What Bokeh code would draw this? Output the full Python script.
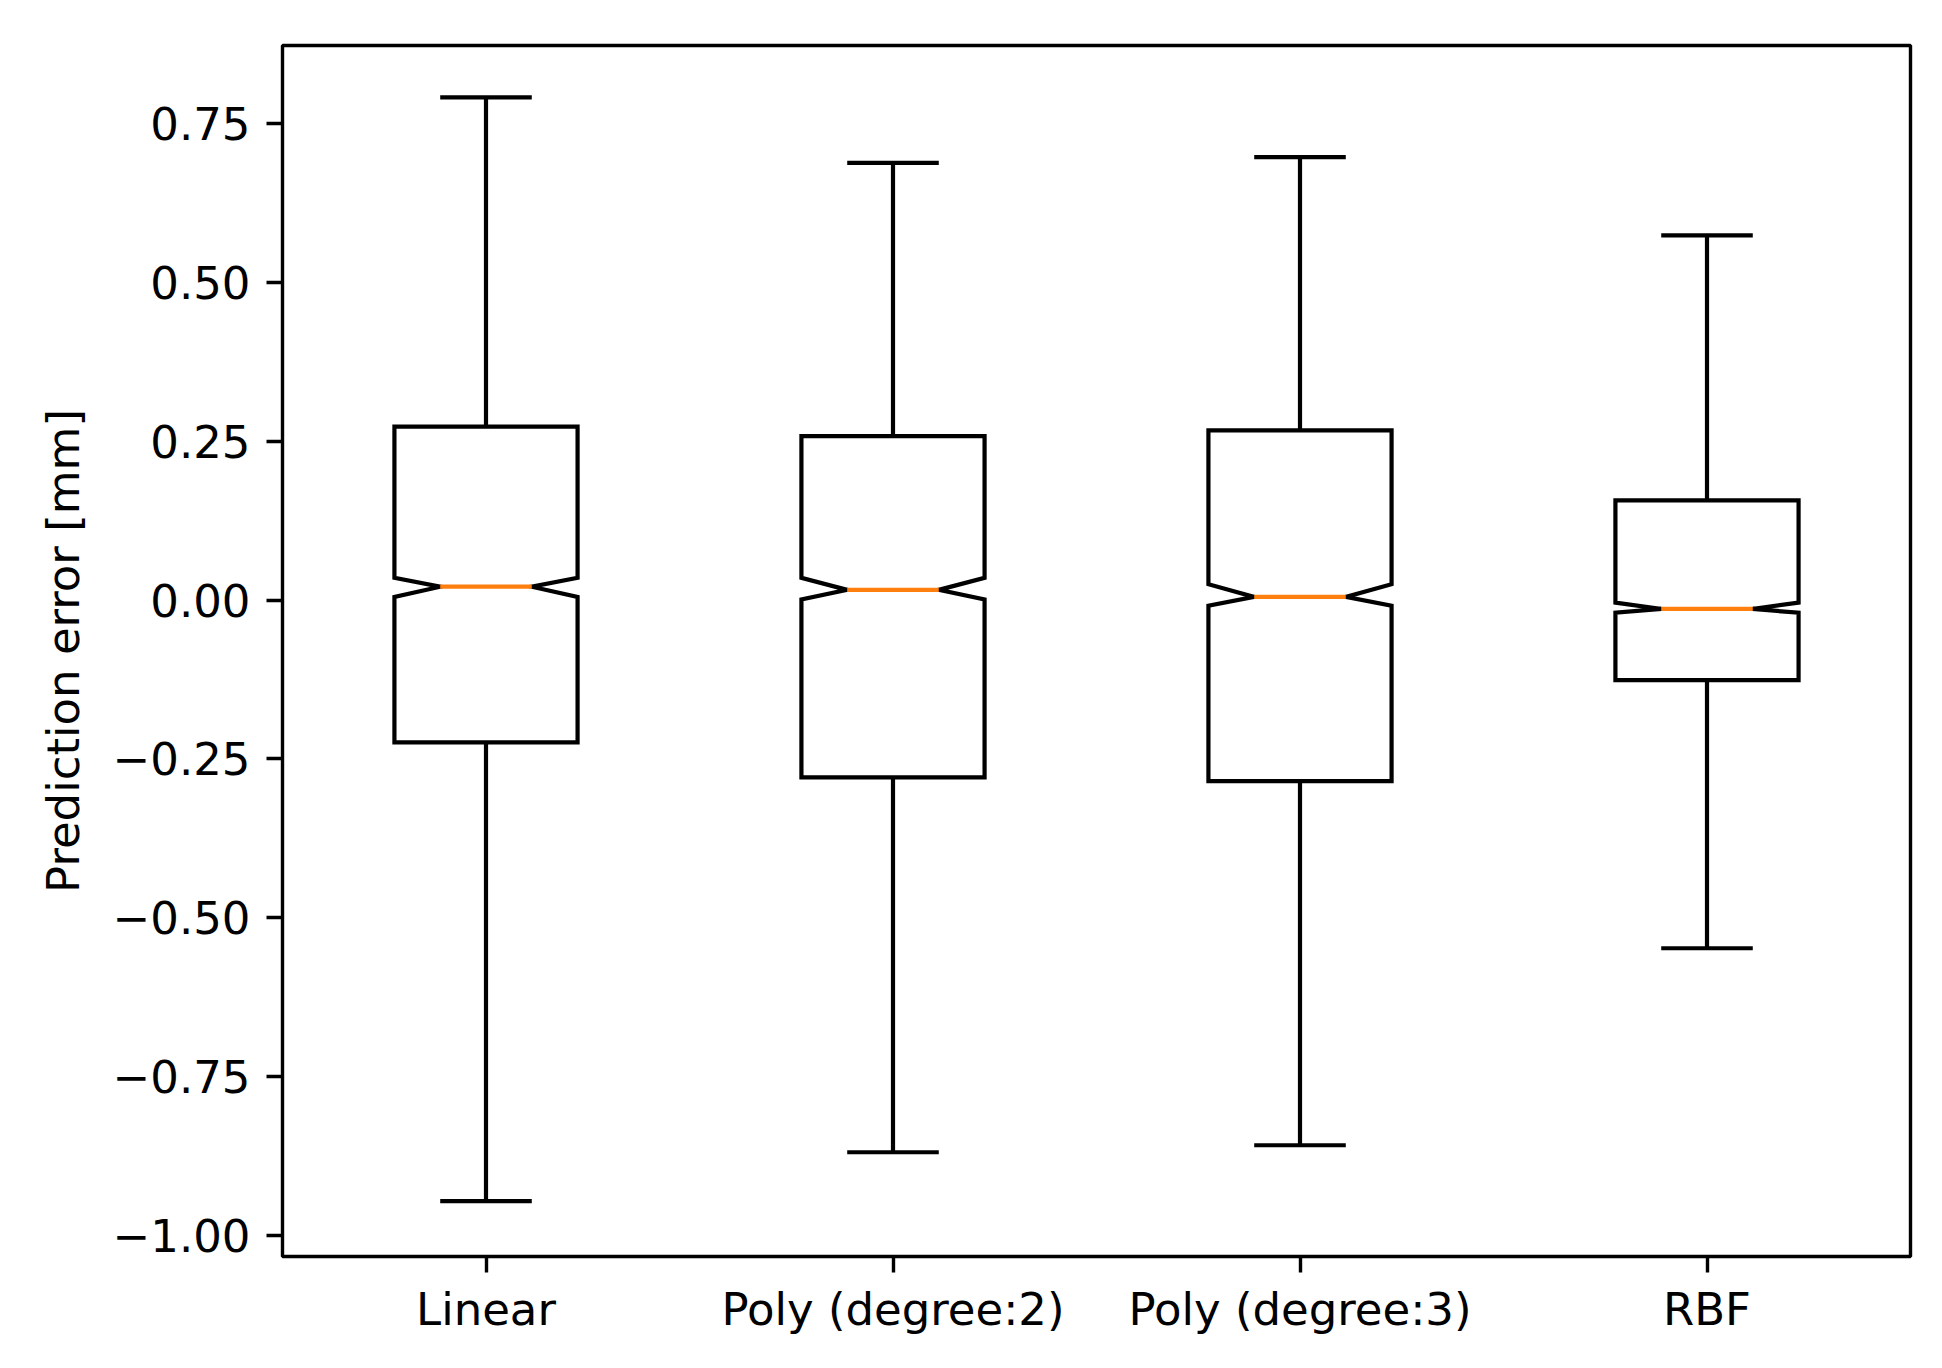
import numpy as np
from bokeh.plotting import figure
from bokeh.models import FixedTicker, CustomJSTickFormatter, Range1d
from bokeh.embed import file_html
from bokeh.resources import INLINE

categories = ["Linear", "Poly (degree:2)", "Poly (degree:3)", "RBF"]
whisker_high = [0.791, 0.688, 0.697, 0.574]
q3 = [0.273, 0.258, 0.267, 0.157]
notch_high = [0.035, 0.035, 0.025, -0.004]
median = [0.021, 0.016, 0.005, -0.014]
notch_low = [0.005, 0.001, -0.009, -0.020]
q1 = [-0.224, -0.279, -0.285, -0.126]
whisker_low = [-0.946, -0.869, -0.858, -0.548]
y_ticks = [-1.0, -0.75, -0.5, -0.25, 0.0, 0.25, 0.5, 0.75]

positions = np.arange(1, len(categories) + 1)
box_w = 0.45
FONT = "DejaVu Sans"
LW = 4.2

p = figure(width=1926, height=1352, output_backend="svg", toolbar_location=None,
           x_range=Range1d(0.5, 4.5), y_range=Range1d(-1.0331, 0.8727),
           min_border_left=282, min_border_right=16, min_border_top=45, min_border_bottom=96)
p.background_fill_color = "white"
p.border_fill_color = "white"
p.outline_line_color = "black"
p.outline_line_width = 3.4
p.xgrid.visible = False
p.ygrid.visible = False

xs, ys = [], []
for i, pos in enumerate(positions):
    bl, br = pos - box_w / 2, pos + box_w / 2
    cl, cr = pos - box_w / 4, pos + box_w / 4
    xs.append([bl, br, br, cr, br, br, bl, bl, cl, bl, bl])
    ys.append([q1[i], q1[i], notch_low[i], median[i], notch_high[i], q3[i], q3[i],
               notch_high[i], median[i], notch_low[i], q1[i]])

# whiskers
p.segment(x0=positions, y0=q3, x1=positions, y1=whisker_high, line_color="black", line_width=LW)
p.segment(x0=positions, y0=q1, x1=positions, y1=whisker_low, line_color="black", line_width=LW)
# caps
p.segment(x0=positions - box_w / 4, y0=whisker_high, x1=positions + box_w / 4, y1=whisker_high,
          line_color="black", line_width=LW)
p.segment(x0=positions - box_w / 4, y0=whisker_low, x1=positions + box_w / 4, y1=whisker_low,
          line_color="black", line_width=LW)
# boxes
p.patches(xs=xs, ys=ys, fill_color=None, line_color="black", line_width=LW, line_join="miter")
# medians
p.segment(x0=positions - box_w / 4, y0=median, x1=positions + box_w / 4, y1=median,
          line_color="#ff7f0e", line_width=LW)

# axes
p.xaxis.ticker = FixedTicker(ticks=list(positions))
p.xaxis.major_label_overrides = {int(pos): c for pos, c in zip(positions, categories)}
p.yaxis.ticker = FixedTicker(ticks=y_ticks)
p.yaxis.formatter = CustomJSTickFormatter(code="""
    const s = Math.abs(tick).toFixed(2);
    return (tick < -1e-9 ? "\u2212" : "") + s;
""")
p.yaxis.axis_label = "Prediction error [mm]"

for ax in (p.xaxis[0], p.yaxis[0]):
    ax.axis_line_color = None
    ax.major_tick_line_color = "black"
    ax.major_tick_line_width = 3.4
    ax.major_tick_out = 16
    ax.major_tick_in = 0
    ax.minor_tick_line_color = None
    ax.major_label_standoff = 14
    ax.major_label_text_font = FONT
    ax.major_label_text_font_size = "45px"
    ax.major_label_text_color = "black"
    ax.axis_label_text_font = FONT
    ax.axis_label_text_font_size = "45px"
    ax.axis_label_text_font_style = "normal"
    ax.axis_label_text_color = "black"
p.xaxis.major_label_standoff = 10
p.yaxis.major_label_standoff = 16
p.yaxis.axis_label_standoff = 20

open("out.html", "w").write(file_html(p, INLINE))
